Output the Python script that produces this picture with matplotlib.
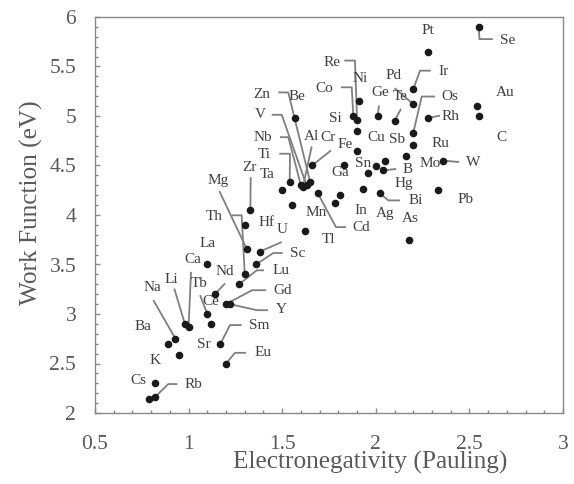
import matplotlib
matplotlib.use("Agg")
import matplotlib.pyplot as plt
from matplotlib.ticker import MultipleLocator
import numpy as np

# ---------------- data ----------------
elements = ["Cs", "Rb", "K", "Na", "Li", "Ba", "Sr", "Ca", "Eu", "Sm",
            "La", "Ce", "Nd", "Tb", "Gd", "Y", "Lu", "Sc", "Mg", "Th",
            "U", "Hf", "Zr", "Ta", "Ti", "Nb", "V", "Zn", "Be", "Al",
            "Cr", "Mn", "Tl", "Fe", "Co", "Ni", "Cu", "Ga", "In", "Cd",
            "Ag", "Sn", "Si", "Re", "Ge", "B", "Hg", "Bi", "Sb", "Te",
            "Pd", "Pt", "Ir", "Os", "Ru", "Rh", "Mo", "W", "Pb", "As",
            "Au", "C", "Se"]
electronegativity = [0.79, 0.82, 0.82, 0.93, 0.98, 0.89, 0.95, 1.00, 1.20, 1.17,
                     1.10, 1.12, 1.14, 1.10, 1.20, 1.22, 1.27, 1.36, 1.31, 1.30,
                     1.38, 1.30, 1.33, 1.50, 1.54, 1.60, 1.63, 1.65, 1.57, 1.61,
                     1.66, 1.55, 1.62, 1.83, 1.88, 1.91, 1.90, 1.81, 1.78, 1.69,
                     1.93, 1.96, 1.90, 1.90, 2.01, 2.04, 2.00, 2.02, 2.05, 2.10,
                     2.20, 2.28, 2.20, 2.20, 2.20, 2.28, 2.16, 2.36, 2.33, 2.18,
                     2.54, 2.55, 2.55]
work_function = [2.14, 2.16, 2.30, 2.75, 2.90, 2.70, 2.59, 2.87, 2.50, 2.70,
                 3.50, 2.90, 3.20, 3.00, 3.10, 3.10, 3.30, 3.50, 3.66, 3.40,
                 3.63, 3.90, 4.05, 4.25, 4.33, 4.30, 4.30, 4.33, 4.98, 4.28,
                 4.50, 4.10, 3.84, 4.50, 5.00, 5.15, 4.65, 4.20, 4.12, 4.22,
                 4.26, 4.42, 4.85, 4.96, 5.00, 4.45, 4.49, 4.22, 4.55, 4.95,
                 5.12, 5.65, 5.27, 4.83, 4.71, 4.98, 4.60, 4.55, 4.25, 3.75,
                 5.10, 5.00, 5.90]
x_ticks = [0.5, 1, 1.5, 2, 2.5, 3]
x_ticklabels = ["0.5", "1", "1.5", "2", "2.5", "3"]
y_ticks = [2, 2.5, 3, 3.5, 4, 4.5, 5, 5.5, 6]
y_ticklabels = ["2", "2.5", "3", "3.5", "4", "4.5", "5", "5.5", "6"]

# ---------------- label layout (pixel offsets from the point: right, down) ----------------
label_offset = {
    "Cs": (-11, -18.4), "Rb": (39, -13), "K": (0, -22.5), "Na": (-22.8, -51.3),
    "Li": (-13.2, -44.4), "Ba": (-24.7, -16.9), "Sr": (24.1, -10.5), "Ca": (4.1, -67.4),
    "Eu": (36.7, -10.7), "Sm": (38.6, -17.9), "La": (0, -20.9), "Ce": (-0.6, -22),
    "Nd": (10.2, -22.3), "Tb": (-8, -30.5), "Gd": (56.7, -13.6), "Y": (51.2, 5.4),
    "Lu": (41.9, -13.3), "Sc": (41.3, -10.9), "Mg": (-28.3, -68.3), "Th": (-30.8, -57.4),
    "U": (22.3, -22.3), "Hf": (21.9, -2.8), "Zr": (-0.4, -42.9), "Ta": (-14.9, -15.5),
    "Ti": (-25, -27.9), "Nb": (-38.2, -48.1), "V": (-46.5, -70.5), "Zn": (-48, -87.6),
    "Be": (1.4, -21.4), "Al": (8.9, -51.1), "Cr": (16.1, -28.3), "Mn": (25.1, 7.6),
    "Tl": (24.3, 8.8), "Fe": (1, -21), "Co": (-29.3, -27.1), "Ni": (1, -22.2),
    "Cu": (19.2, -13.4), "Ga": (0.5, -23.1), "In": (26.1, 7.3), "Cd": (43.9, 33.9),
    "Ag": (22.3, 23.9), "Sn": (-5.6, -10.3), "Si": (-22.1, -12), "Re": (-25.4, -57.7),
    "Ge": (2.3, -23.7), "B": (24, -1), "Hg": (27.5, 17.3), "Bi": (36.5, 7.2),
    "Sb": (12.1, -20.7), "Te": (5.5, -24.9), "Pd": (-19.9, -28.5), "Pt": (0, -21.6),
    "Ir": (30.1, -17.9), "Os": (36.8, -36.3), "Ru": (26.8, -0.9), "Rh": (21.8, -1.4),
    "Mo": (24.9, 8.2), "W": (30.1, 1.7), "Pb": (28.4, 9.5), "As": (1.2, -21.1),
    "Au": (28.1, -13.8), "C": (22.9, 21.9), "Se": (29, 13.2),
}
leader = {
    "Rb": [(22.4, -13.1), (13.4, -13.1)],
    "Na": [(-22.2, -38.6)],
    "Li": [(-10.6, -35.4)],
    "Ca": [(2.4, -55)],
    "Eu": [(20, -10.7), (9, -10.7)],
    "Sm": [(21.3, -18.6), (9.6, -18.6)],
    "Nd": [(10.2, -10.7)],
    "Tb": [(-7.3, -18.8)],
    "Gd": [(40, -13.9), (26, -13.9)],
    "Y": [(38.2, 6.1), (27.2, 6.1)],
    "Lu": [(24.9, -14), (17.6, -14)],
    "Sc": [(26.7, -11.5), (17.3, -11.5)],
    "Mg": [(-27.3, -57.6)],
    "Th": [(-13.1, -59.1), (-3.1, -59.1)],
    "U": [(22, -9.6)],
    "Zr": [(0.3, -32.9)],
    "Ti": [(-10.4, -28.6), (0.3, -28.6)],
    "Nb": [(-20.9, -48.1), (-12.6, -48.1)],
    "V": [(-34.8, -70.5), (-24.8, -70.5)],
    "Zn": [(-32, -89.9), (-22, -89.9)],
    "Al": [(8.9, -40.8)],
    "Cr": [(18.8, -15)],
    "Co": [(-12.3, -28.7), (-1.6, -28.7)],
    "Re": [(-12.8, -59.4), (-2.1, -59.4)],
    "Cd": [(28.2, 33.9), (18.2, 33.9)],
    "Ge": [(1.3, -10.4)],
    "B": [(13, -1.5)],
    "Bi": [(20.5, 7.2), (8.8, 7.2)],
    "Te": [(6.5, -12)],
    "Pd": [(-18.7, -16)],
    "Ir": [(17.5, -18.6), (6.8, -18.6)],
    "Os": [(21.8, -36.3), (8.5, -36.3)],
    "Rh": [(11.8, -2.4)],
    "Se": [(14, 12.2), (0.7, 12.2)],
    "W": [(16, 1.5)],
}

# ---------------- figure ----------------
plt.rcParams["font.family"] = ["Liberation Serif", "DejaVu Serif"]
W, H, DPI = 574, 484, 100
fig = plt.figure(figsize=(W / DPI, H / DPI), dpi=DPI)
ax = fig.add_axes([95 / W, 1 - 413 / H, 468 / W, 396 / H])

axis_grey = "#898989"
text_grey = "#595959"
label_grey = "#404040"

ax.set_xlim(0.5, 3)
ax.set_ylim(2, 6)
ax.set_xticks(x_ticks)
ax.set_xticklabels(x_ticklabels)
ax.set_yticks(y_ticks)
ax.set_yticklabels(y_ticklabels)
ax.xaxis.set_minor_locator(MultipleLocator(0.1))
ax.yaxis.set_minor_locator(MultipleLocator(0.1))
ax.tick_params(which="both", direction="in", colors=axis_grey, width=1.0,
               top=False, right=False)
ax.tick_params(which="major", length=3.5, labelsize=15.5, labelcolor=text_grey)
ax.tick_params(which="minor", length=2.5)
ax.tick_params(axis="x", which="major", pad=15.8)
ax.tick_params(axis="y", which="major", pad=13.5)
for s in ax.spines.values():
    s.set_color(axis_grey)
    s.set_linewidth(1.0)

ax.set_xlabel("Electronegativity (Pauling)", fontsize=18.2, color=text_grey,
              va="top")
ax.set_ylabel("Work Function (eV)", fontsize=18.2, color=text_grey)
ax.xaxis.set_label_coords((370 - 95) / 468, (413 - 451) / 396)
ax.yaxis.set_label_coords((43 - 95) / 468, (413 - 203) / 396)

# leader lines (drawn beneath points)
to_data = ax.transData.inverted()
for name, ex, wf in zip(elements, electronegativity, work_function):
    if name in leader:
        X, Y = ax.transData.transform((ex, wf))
        pts = [(X + dx, Y - dy) for dx, dy in leader[name]] + [(X, Y)]
        dpts = to_data.transform(pts)
        ax.plot(dpts[:, 0], dpts[:, 1], color="#7f7f7f", lw=1.3,
                solid_capstyle="butt", zorder=2)

ax.scatter(electronegativity, work_function, s=30, color="#1a1a1a",
           zorder=3, linewidths=0)

for name, ex, wf in zip(elements, electronegativity, work_function):
    dx, dy = label_offset[name]
    ax.annotate(name, xy=(ex, wf), xytext=(dx * 72 / DPI, -dy * 72 / DPI),
                textcoords="offset points", ha="center", va="center",
                fontsize=11, color=label_grey, zorder=4)

fig.savefig("out.png", dpi=DPI)
